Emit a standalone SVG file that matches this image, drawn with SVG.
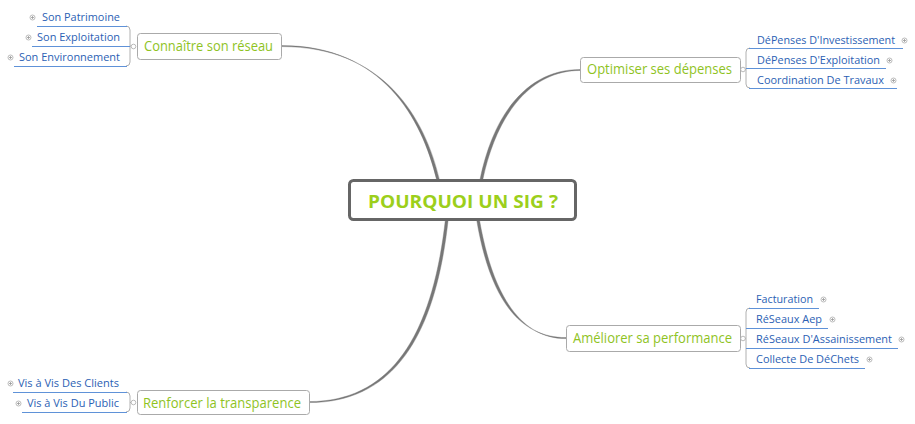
<svg xmlns="http://www.w3.org/2000/svg" xmlns:xlink="http://www.w3.org/1999/xlink" width="915" height="424" viewBox="0 0 915 424">
<style>
.box{fill:#fff;stroke:#aaa;stroke-width:1}
.main{font-family:"Open Sans","DejaVu Sans",sans-serif;font-size:14px;fill:#8fc31f}
.sub{font-family:"Open Sans","DejaVu Sans",sans-serif;font-size:11.6px;fill:#2c5fb4}
.ul{fill:none;stroke:#5f92d8;stroke-width:1}
.br{fill:none;stroke:#b0b0b0;stroke-width:1}
.con{fill:#777;stroke:#777;stroke-width:0.4}
.ind{fill:#fff;stroke:#aaa;stroke-width:0.8}
</style>
<defs>
<g id="plus"><circle r="2.5" fill="#fff" stroke="#aaa" stroke-width="0.8"/><path d="M-1.5,0H1.5M0,-1.5V1.5" stroke="#999" stroke-width="0.8"/></g>
</defs>
<rect width="915" height="424" fill="#fff"/>
<g id="connectors">
<path class="con" d="M282,45.6 C382,45.6 422,118 436.8,180.5 L439.6,180.5 C425,118 384,46.6 282,46.6 Z"/>
<path class="con" d="M580,69.5 C530,69.5 494,110 479.8,180.5 L482.6,180.5 C497,112 532,70.5 580,70.5 Z"/>
<path class="con" d="M309,401.6 C400,401.6 434,320 445.4,219.5 L448.2,219.5 C437,322 402,402.6 309,402.6 Z"/>
<path class="con" d="M566,337.6 C520,337.6 490,300 476.6,219.5 L479.4,219.5 C493,298 522,338.6 566,338.6 Z"/>
</g>
<g id="center">
<rect x="349.5" y="180.5" width="226" height="39" rx="4" fill="#fff" stroke="#666" stroke-width="3"/>
<text x="463" y="208" text-anchor="middle" font-family="'Open Sans','DejaVu Sans',sans-serif" font-size="17" font-weight="bold" fill="#9ccf1b" textLength="190" lengthAdjust="spacingAndGlyphs">POURQUOI UN SIG ?</text>
</g>
<g id="n-connaitre">
<rect class="box" x="137.5" y="33.5" width="144" height="26" rx="3"/>
<text class="main" x="144" y="51" textLength="129" lengthAdjust="spacingAndGlyphs">Connaître son réseau</text>
<path class="br" d="M126,26 Q130,26 130,30 V62 Q130,66 126,66 M130,46 H131"/>
<circle class="ind" cx="133.5" cy="46.5" r="2.3"/>
</g>
<g id="n-patrimoine"><path class="ul" d="M37,26.5 H127"/><use xlink:href="#plus" x="32.5" y="17.5"/><text class="sub" x="120" y="21" text-anchor="end" textLength="78" lengthAdjust="spacingAndGlyphs">Son Patrimoine</text></g>
<g id="n-exploitation"><path class="ul" d="M32,46.5 H130"/><use xlink:href="#plus" x="28.5" y="37.5"/><text class="sub" x="120" y="41" text-anchor="end" textLength="83" lengthAdjust="spacingAndGlyphs">Son Exploitation</text></g>
<g id="n-environnement"><path class="ul" d="M14,66.5 H127"/><use xlink:href="#plus" x="10.5" y="57.5"/><text class="sub" x="120" y="61" text-anchor="end" textLength="101" lengthAdjust="spacingAndGlyphs">Son Environnement</text></g>
<g id="n-optimiser">
<rect class="box" x="580.5" y="57.5" width="160" height="25" rx="3"/>
<text class="main" x="587" y="74" textLength="145" lengthAdjust="spacingAndGlyphs">Optimiser ses dépenses</text>
<path class="br" d="M750,48 Q746,48 746,52 V84 Q746,88 750,88 M745,69.5 H746"/>
<circle class="ind" cx="743" cy="69.5" r="2.3"/>
</g>
<g id="n-invest"><path class="ul" d="M749,48.5 H903"/><use xlink:href="#plus" x="904.5" y="40.5"/><text class="sub" x="757" y="44" textLength="138" lengthAdjust="spacingAndGlyphs">DéPenses D'Investissement</text></g>
<g id="n-exploit"><path class="ul" d="M746,68.5 H886"/><use xlink:href="#plus" x="889.5" y="60.5"/><text class="sub" x="757" y="64" textLength="123" lengthAdjust="spacingAndGlyphs">DéPenses D'Exploitation</text></g>
<g id="n-coord"><path class="ul" d="M749,88.5 H897"/><use xlink:href="#plus" x="893.5" y="80.5"/><text class="sub" x="757" y="84" textLength="127" lengthAdjust="spacingAndGlyphs">Coordination De Travaux</text></g>
<g id="n-ameliorer">
<rect class="box" x="566.5" y="325.5" width="174" height="26" rx="3"/>
<text class="main" x="573" y="343" textLength="159" lengthAdjust="spacingAndGlyphs">Améliorer sa performance</text>
<path class="br" d="M750,308 Q746,308 746,312 V364 Q746,368 750,368 M745,338.5 H746"/>
<circle class="ind" cx="743" cy="338.5" r="2.3"/>
</g>
<g id="n-factu"><path class="ul" d="M749,308.5 H819"/><use xlink:href="#plus" x="823.5" y="299.5"/><text class="sub" x="756" y="303" textLength="57" lengthAdjust="spacingAndGlyphs">Facturation</text></g>
<g id="n-aep"><path class="ul" d="M746,328.5 H828"/><use xlink:href="#plus" x="832.5" y="319.5"/><text class="sub" x="756" y="323" textLength="66" lengthAdjust="spacingAndGlyphs">RéSeaux Aep</text></g>
<g id="n-assain"><path class="ul" d="M746,348.5 H898"/><use xlink:href="#plus" x="901.5" y="339.5"/><text class="sub" x="756" y="343" textLength="136" lengthAdjust="spacingAndGlyphs">RéSeaux D'Assainissement</text></g>
<g id="n-dechets"><path class="ul" d="M749,368.5 H865"/><use xlink:href="#plus" x="869.5" y="359.5"/><text class="sub" x="756" y="363" textLength="103" lengthAdjust="spacingAndGlyphs">Collecte De DéChets</text></g>
<g id="n-renforcer">
<rect class="box" x="137.5" y="390.5" width="172" height="24" rx="3"/>
<text class="main" x="143" y="408" textLength="158" lengthAdjust="spacingAndGlyphs">Renforcer la transparence</text>
<path class="br" d="M126,392 Q130,392 130,396 V408 Q130,412 126,412 M130,402.5 H131"/>
<circle class="ind" cx="133.5" cy="402.5" r="2.3"/>
</g>
<g id="n-clients"><path class="ul" d="M13,392.5 H127"/><use xlink:href="#plus" x="10.5" y="383.5"/><text class="sub" x="119" y="387" text-anchor="end" textLength="101" lengthAdjust="spacingAndGlyphs">Vis à Vis Des Clients</text></g>
<g id="n-public"><path class="ul" d="M22,412.5 H127"/><use xlink:href="#plus" x="18.5" y="403.5"/><text class="sub" x="119" y="407" text-anchor="end" textLength="92" lengthAdjust="spacingAndGlyphs">Vis à Vis Du Public</text></g>
</svg>
